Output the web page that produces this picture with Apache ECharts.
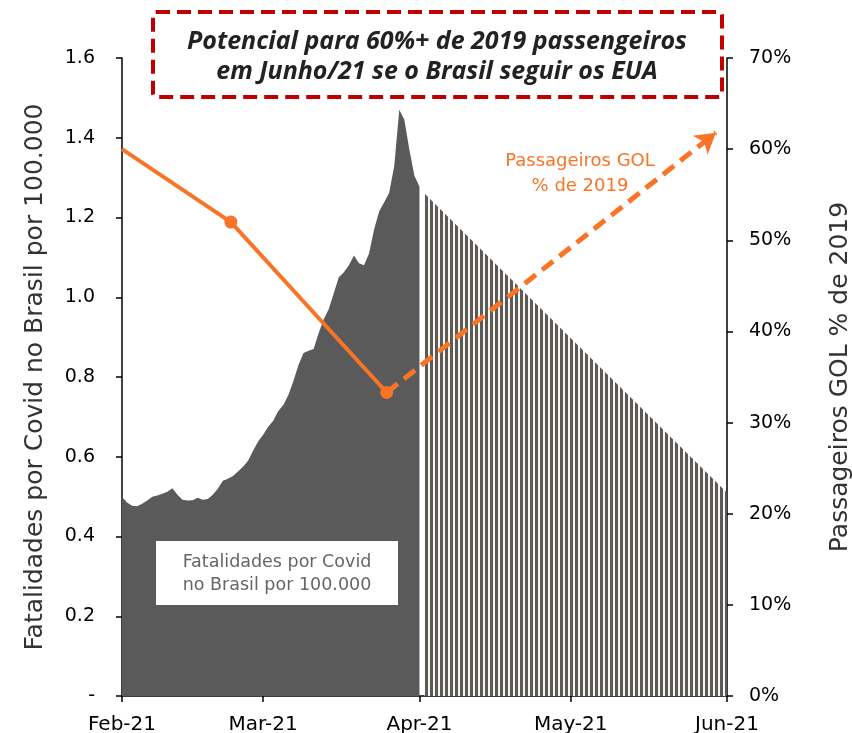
<!DOCTYPE html>
<html>
<head>
<meta charset="utf-8">
<script src="https://cdn.jsdelivr.net/npm/echarts@6/dist/echarts.min.js"></script>
<style>
  html, body { margin: 0; padding: 0; background: #fff; }
  #chart { width: 852px; height: 733px; }
</style>
</head>
<body>
<div id="chart"></div>
<script>
// eixo x em dias desde 1 fev 2021
const monthDays = [0, 28, 59, 89, 120]
const monthLabels = ['Feb-21', 'Mar-21', 'Apr-21', 'May-21', 'Jun-21']

// fatalidades diarias por 100.000 (1 fev -> 1 abr)
const covidValues = [
  0.50, 0.485, 0.477, 0.476, 0.482, 0.49, 0.50, 0.503, 0.507, 0.512,
  0.521, 0.505, 0.492, 0.490, 0.491, 0.497, 0.492, 0.494, 0.505, 0.52,
  0.54, 0.545, 0.552, 0.563, 0.575, 0.59, 0.615, 0.638, 0.655, 0.675,
  0.69, 0.715, 0.73, 0.755, 0.79, 0.83, 0.86, 0.866, 0.87, 0.91,
  0.945, 0.97, 1.01, 1.05, 1.063, 1.08, 1.105, 1.085, 1.08, 1.11,
  1.17, 1.215, 1.238, 1.262, 1.33, 1.47, 1.445, 1.37, 1.305, 1.278
]

// projecao (tracejado vertical)
const forecastDays = [60, 120]
const forecastValues = [1.26, 0.51]

// passageiros GOL % de 2019
const golDays = [0, 21.6, 52.5]
const golValues = [60, 52, 33.3]
const golTargetDay = 117.8
const golTargetValue = 61.8

const orange = '#f97427'
const darkGray = '#5a5a5a'

// padrao de listras
const stripe = document.createElement('canvas')
stripe.width = 5
stripe.height = 4
const sctx = stripe.getContext('2d')
sctx.fillStyle = '#fbf6ec'
sctx.fillRect(0, 0, 5, 4)
sctx.fillStyle = darkGray
sctx.fillRect(0, 0, 3, 4)

const chart = echarts.init(document.getElementById('chart'))

const axisFont = 'DejaVu Sans'

const option = {
  animation: false,
  grid: { left: 122, right: 125, top: 58, bottom: 37, outerBoundsMode: 'none', containLabel: false },
  xAxis: {
    type: 'value',
    min: 0,
    max: 120,
    axisLine: { lineStyle: { color: '#000', width: 1.5 } },
    axisTick: { show: true, customValues: monthDays, length: 6, lineStyle: { color: '#000', width: 1.5 } },
    axisLabel: {
      customValues: monthDays,
      formatter: v => monthLabels[monthDays.indexOf(v)],
      fontSize: 20, color: '#000', fontFamily: axisFont, margin: 19
    },
    splitLine: { show: false }
  },
  yAxis: [
    {
      type: 'value',
      position: 'left',
      min: 0,
      max: 1.6,
      interval: 0.2,
      axisLine: { show: true, lineStyle: { color: '#000', width: 1.5 } },
      axisTick: { show: true, length: 6, lineStyle: { color: '#000', width: 1.5 } },
      axisLabel: {
        formatter: v => v === 0 ? '-' : v.toFixed(1),
        fontSize: 19, color: '#000', fontFamily: axisFont, margin: 27
      },
      splitLine: { show: false },
      name: 'Fatalidades por Covid no Brasil por 100.000',
      nameLocation: 'middle',
      nameGap: 74,
      nameRotate: 90,
      nameTextStyle: { fontSize: 25, color: '#333', fontFamily: axisFont }
    },
    {
      type: 'value',
      position: 'right',
      min: 0,
      max: 70,
      interval: 10,
      axisLine: { show: true, lineStyle: { color: '#000', width: 1.5 } },
      axisTick: { show: true, length: 6, lineStyle: { color: '#000', width: 1.5 } },
      axisLabel: {
        formatter: '{value}%',
        fontSize: 19, color: '#000', fontFamily: axisFont, margin: 22
      },
      splitLine: { show: false },
      name: 'Passageiros GOL % de 2019',
      nameLocation: 'middle',
      nameGap: 101,
      nameRotate: 90,
      nameTextStyle: { fontSize: 25, color: '#333', fontFamily: axisFont }
    }
  ],
  series: [
    {
      name: 'covid',
      type: 'line',
      data: covidValues.map((v, i) => [i, v]),
      symbol: 'none',
      lineStyle: { width: 0 },
      areaStyle: { color: darkGray, opacity: 1 },
      z: 1
    },
    {
      name: 'projecao',
      type: 'line',
      data: forecastDays.map((d, i) => [d, forecastValues[i]]),
      symbol: 'none',
      lineStyle: { width: 0 },
      areaStyle: { color: { image: stripe, repeat: 'repeat' }, opacity: 1 },
      z: 1
    },
    {
      name: 'gol',
      type: 'line',
      yAxisIndex: 1,
      data: golDays.map((d, i) => ({
        value: [d, golValues[i]],
        symbol: i === 0 ? 'none' : 'circle'
      })),
      symbolSize: 13,
      itemStyle: { color: orange },
      lineStyle: { color: orange, width: 4 },
      z: 5,
      markLine: {
        silent: true,
        symbol: ['none', 'arrow'],
        symbolSize: [18, 20],
        label: { show: false },
        lineStyle: { color: orange, width: 5, type: [14, 8] },
        data: [[
          { coord: [golDays[golDays.length - 1], golValues[golValues.length - 1]] },
          { coord: [golTargetDay, golTargetValue] }
        ]]
      }
    }
  ],
  graphic: [
    {
      type: 'rect',
      shape: { x: 153, y: 12, width: 569, height: 85, r: 3 },
      style: { fill: '#fff', stroke: '#c00000', lineWidth: 4, lineDash: [14, 7] },
      z: 10
    },
    {
      type: 'text',
      x: 437,
      y: 57,
      style: {
        text: 'Potencial para 60%+ de 2019 passengeiros\nem Junho/21 se o Brasil seguir os EUA',
        font: 'italic bold 25px "Open Sans"',
        fill: '#222',
        align: 'center',
        verticalAlign: 'middle',
        lineHeight: 30
      },
      z: 11
    },
    {
      type: 'rect',
      shape: { x: 156, y: 541, width: 242, height: 64 },
      style: { fill: '#fff' },
      z: 10
    },
    {
      type: 'text',
      x: 277,
      y: 574,
      style: {
        text: 'Fatalidades por Covid\nno Brasil por 100.000',
        font: '17.5px "DejaVu Sans"',
        fill: '#666',
        align: 'center',
        verticalAlign: 'middle',
        lineHeight: 23
      },
      z: 11
    },
    {
      type: 'text',
      x: 580,
      y: 174,
      style: {
        text: 'Passageiros GOL\n% de 2019',
        font: '18px "DejaVu Sans"',
        fill: orange,
        align: 'center',
        verticalAlign: 'middle',
        lineHeight: 25
      },
      z: 11
    }
  ]
}

chart.setOption(option)
</script>
</body>
</html>
